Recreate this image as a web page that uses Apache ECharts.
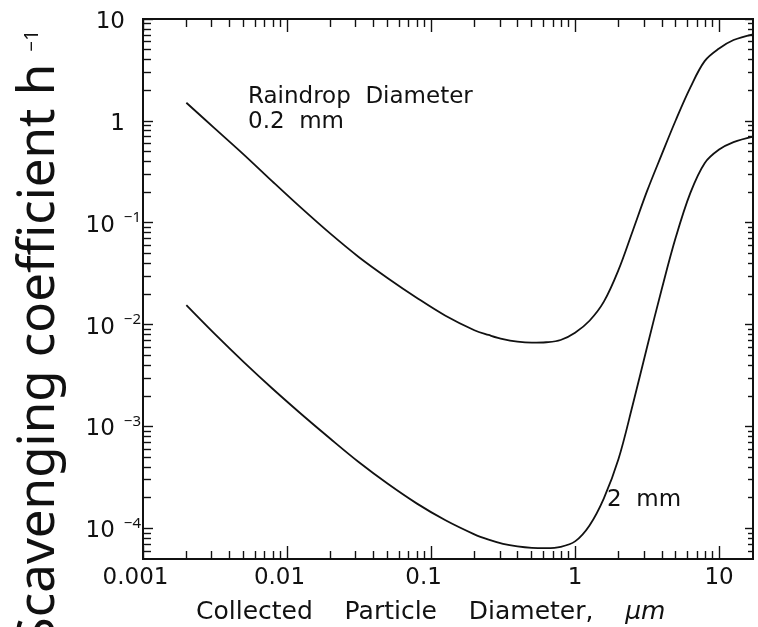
<!DOCTYPE html>
<html><head><meta charset="utf-8">
<script src="https://cdn.jsdelivr.net/npm/echarts@6/dist/echarts.min.js"></script>
<style>html,body{margin:0;padding:0;background:#fff}#c{width:758px;height:627px}</style>
</head><body><div id="c"></div>
<script>
// ---- data ----
const xMajorTicks = [0.001, 0.01, 0.1, 1, 10];
const xTickLabels = ['0.001', '0.01', '0.1', '1', '10'];
const yMajorTicks = [1e-4, 1e-3, 1e-2, 1e-1, 1, 10];
const yTickBase = ['10', '10', '10', '10', '1', '10'];
const yTickExp = ['−4', '−3', '−2', '−1', '', ''];
// Collected particle diameter (um) at which the curves were read
const particleDiam = [0.002, 0.00316, 0.00501, 0.00794, 0.0126, 0.02, 0.0316, 0.0501, 0.0794, 0.126, 0.2, 0.251, 0.316, 0.398, 0.501, 0.631, 0.794, 1, 1.26, 1.585, 2.0, 2.51, 3.16, 3.98, 5.01, 6.31, 7.94, 10, 12.6, 17.2];
// Scavenging coefficient (1/h), raindrop diameter 0.2 mm
const coef02mm = [1.506, 0.840, 0.467, 0.2535, 0.139, 0.0781, 0.0459, 0.02856, 0.01837, 0.01222, 0.00881, 0.00791, 0.00719, 0.00679, 0.00664, 0.00671, 0.00706, 0.00832, 0.01091, 0.01679, 0.0342, 0.0826, 0.204, 0.461, 1.02, 2.12, 3.86, 5.13, 6.22, 7.08];
// Scavenging coefficient (1/h), raindrop diameter 2 mm
const coef2mm = [0.01552, 0.00805, 0.00428, 0.002344, 0.001318, 0.000757, 0.000445, 0.0002735, 0.0001758, 0.0001199, 0.0000873, 0.0000775, 0.0000705, 0.0000665, 0.0000644, 0.0000640, 0.0000658, 0.0000745, 0.0001069, 0.0001972, 0.000476, 0.001614, 0.00600, 0.02178, 0.0723, 0.1954, 0.3846, 0.5224, 0.6194, 0.7015];

const xMin = 0.001, xMax = 17.2, yMin = 5e-5, yMax = 10;
function minorTicks(lo, hi) {
  const out = [];
  for (let n = -6; n <= 2; n++) for (let k = 2; k <= 9; k++) {
    const v = k * Math.pow(10, n);
    if (v > lo * 1.001 && v < hi * 0.999) out.push(v);
  }
  return out;
}
const xMinorTicks = minorTicks(xMin, xMax);
const yMinorTicks = minorTicks(yMin, yMax);

const INK = '#111';
function xAx(pos, ticks, len, labels) {
  return {
    type: 'log', logBase: 10, min: xMin, max: xMax, position: pos,
    axisLine: { show: true, onZero: false, lineStyle: { color: INK, width: 2 } },
    axisTick: { show: true, inside: true, length: len, customValues: ticks, lineStyle: { color: INK, width: 1.4 } },
    axisLabel: labels ? {
      show: true, customValues: xMajorTicks, margin: 8, color: INK,
      fontFamily: 'DejaVu Sans', fontSize: 23,
      formatter: function (v) {
        const i = xMajorTicks.findIndex(t => Math.abs(Math.log10(t) - Math.log10(v)) < 1e-6);
        const s = xTickLabels[i];
        return v < 0.5 ? '{d|' + s + '}' : s;
      },
      rich: { d: { fontFamily: 'DejaVu Sans', fontSize: 23, color: INK, padding: [0, 15, 0, 0] } }
    } : { show: false },
    splitLine: { show: false }, minorTick: { show: false }, minorSplitLine: { show: false }
  };
}
function yAx(pos, ticks, len, labels) {
  return {
    type: 'log', logBase: 10, min: yMin, max: yMax, position: pos,
    axisLine: { show: true, onZero: false, lineStyle: { color: INK, width: 2 } },
    axisTick: { show: true, inside: true, length: len, customValues: ticks, lineStyle: { color: INK, width: 1.4 } },
    axisLabel: labels ? {
      show: true, customValues: yMajorTicks, margin: 2, color: INK,
      formatter: function (v) {
        const i = yMajorTicks.findIndex(t => Math.abs(Math.log10(t) - Math.log10(v)) < 1e-6);
        if (!yTickExp[i]) return '{mp|' + yTickBase[i] + '}';
        return '{m|' + yTickBase[i] + '}{s|' + yTickExp[i] + '}';
      },
      rich: {
        m: { fontFamily: 'DejaVu Sans', fontSize: 23, color: INK, padding: [6, 0, 0, 0] },
        mp: { fontFamily: 'DejaVu Sans', fontSize: 23, color: INK, padding: [6, 16, 0, 0] },
        s: { fontFamily: 'Noto Sans', fontSize: 15, color: INK, padding: [0, 0, 10, 9] }
      }
    } : { show: false },
    splitLine: { show: false }, minorTick: { show: false }, minorSplitLine: { show: false }
  };
}

function pairs(xs, ys) { return xs.map((x, i) => [x, ys[i]]); }

const chart = echarts.init(document.getElementById('c'), null, { renderer: 'canvas' });
chart.setOption({
  backgroundColor: '#fff',
  animation: false,
  grid: { left: 143, top: 19, width: 610, height: 540, containLabel: false },
  xAxis: [
    xAx('bottom', xMajorTicks, 13, true),
    xAx('bottom', xMinorTicks, 8, false),
    xAx('top', xMajorTicks, 13, false),
    xAx('top', xMinorTicks, 8, false)
  ],
  yAxis: [
    yAx('left', yMajorTicks, 10, true),
    yAx('left', yMinorTicks, 8, false),
    yAx('right', yMajorTicks, 8, false),
    yAx('right', yMinorTicks, 5, false)
  ],
  series: [
    { name: '0.2 mm', type: 'line', xAxisIndex: 0, yAxisIndex: 0, data: pairs(particleDiam, coef02mm), smooth: 0.35,
      showSymbol: false, lineStyle: { color: INK, width: 1.8 }, clip: true },
    { name: '2 mm', type: 'line', xAxisIndex: 0, yAxisIndex: 0, data: pairs(particleDiam, coef2mm), smooth: 0.35,
      showSymbol: false, lineStyle: { color: INK, width: 1.8 }, clip: true }
  ],
  graphic: [
    { type: 'text', x: 39.5, y: 30, rotation: Math.PI / 2,
      style: { text: '{a|Scavenging coefficient h}{b|−1}', align: 'right', verticalAlign: 'middle',
        rich: { a: { fontFamily: 'Noto Sans', fontSize: 51, fill: '#111' },
                b: { fontFamily: 'Noto Sans', fontSize: 19, fill: '#111', padding: [0, 0, 14, 12] } } } },
    { type: 'text', x: 248, y: 97, style: { text: 'Raindrop  Diameter', fontFamily: 'DejaVu Sans', fontSize: 23, fill: INK, verticalAlign: 'middle' } },
    { type: 'text', x: 248, y: 122, style: { text: '0.2  mm', fontFamily: 'DejaVu Sans', fontSize: 23, fill: INK, verticalAlign: 'middle' } },
    { type: 'text', x: 607, y: 500, style: { text: '2  mm', fontFamily: 'DejaVu Sans', fontSize: 23, fill: INK, verticalAlign: 'middle' } },
    { type: 'text', x: 196, y: 612,
      style: { text: '{a|Collected    Particle    Diameter,    }{i|μm}', verticalAlign: 'middle',
        rich: { a: { fontFamily: 'DejaVu Sans', fontSize: 25, fill: INK },
                i: { fontFamily: 'DejaVu Sans', fontSize: 25, fontStyle: 'italic', fill: INK } } } }
  ]
});
</script>
</body></html>
